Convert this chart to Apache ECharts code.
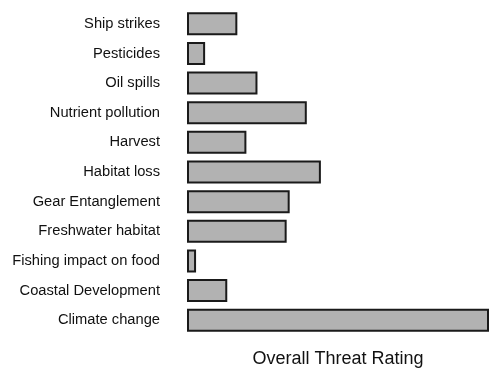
<!DOCTYPE html>
<html>
<head>
<meta charset="utf-8">
<script src="https://cdn.jsdelivr.net/npm/echarts@6/dist/echarts.min.js"></script>
<style>html,body{margin:0;padding:0;background:#fff;}#c{width:500px;height:377px;}</style>
</head>
<body>
<div id="c"></div>
<script>
const categories = ["Ship strikes","Pesticides","Oil spills","Nutrient pollution","Harvest","Habitat loss","Gear Entanglement","Freshwater habitat","Fishing impact on food","Coastal Development","Climate change"];
const values = [5.0, 1.8, 7.0, 11.9, 5.9, 13.3, 10.2, 9.9, 0.9, 4.0, 30];
const axisTitle = "Overall Threat Rating";

const chart = echarts.init(document.getElementById('c'), null, {renderer:'canvas'});
chart.setOption({
  animation: false,
  backgroundColor: '#fff',
  grid: {left: 187, right: 11, top: 9, bottom: 42, containLabel: false},
  xAxis: {
    type: 'value', min: 0, max: 30,
    axisLine: {show: false}, axisTick: {show: false}, axisLabel: {show: false}, splitLine: {show: false},
    name: axisTitle, nameLocation: 'middle', nameGap: 15,
    nameTextStyle: {fontFamily: 'Liberation Sans, Arial, sans-serif', fontSize: 18, color: '#111'}
  },
  yAxis: {
    type: 'category', data: categories, inverse: true,
    axisLine: {show: false}, axisTick: {show: false},
    axisLabel: {margin: 27, fontFamily: 'Liberation Sans, Arial, sans-serif', fontSize: 14.7, color: '#111'}
  },
  series: [{
    type: 'bar', data: values, barWidth: 23,
    itemStyle: {color: '#b2b2b2', borderColor: '#1a1a1a', borderWidth: 2}
  }]
});
</script>
</body>
</html>
